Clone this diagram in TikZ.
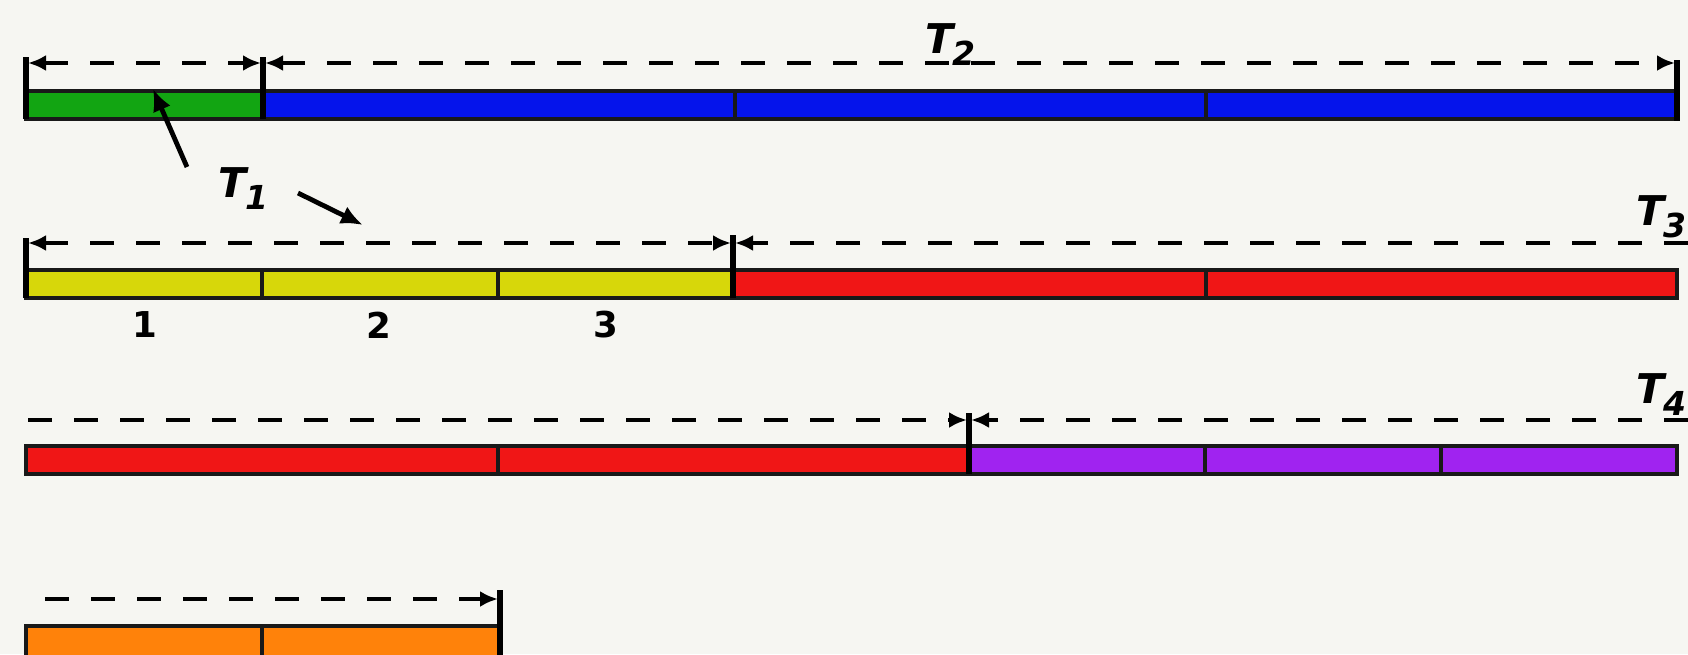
\documentclass[tikz,border=0pt]{standalone}
\usepackage{fontspec}
\newfontfamily\labfont{DejaVu Sans}
\usetikzlibrary{arrows.meta}
\definecolor{bgc}{RGB}{246,246,242}
\definecolor{cgreen}{RGB}{18,165,18}
\definecolor{cblue}{RGB}{5,20,235}
\definecolor{cyellow}{RGB}{215,215,10}
\definecolor{cred}{RGB}{240,22,22}
\definecolor{cpurple}{RGB}{160,35,240}
\definecolor{corange}{RGB}{255,130,10}
\newcommand\Tsub[1]{T\kern-0.5pt\raisebox{-6pt}{\fontsize{16.5}{17}\selectfont #1}}
\begin{document}
\begin{tikzpicture}[x=0.5pt,y=-0.5pt,
  seg/.style={draw=black!90, line width=1.6pt},
  tick/.style={draw=black, line width=3.2pt},
  dline/.style={draw=black, line width=2.4pt, dash pattern=on 12pt off 11pt,
     >={Latex[length=9pt,width=8pt]}},
  pointer/.style={draw=black, line width=2.4pt, -{Latex[length=11pt,width=9.5pt]}},
  tlab/.style={font=\labfont\bfseries\itshape\fontsize{20.5}{21}\selectfont, inner sep=0pt},
  dlab/.style={font=\labfont\bfseries\fontsize{17.8}{18}\selectfont, inner sep=0pt}
]
\useasboundingbox (0,0) rectangle (1688,654);
\fill[bgc] (0,0) rectangle (1688,654);
\clip (0,0) rectangle (1688,654);

% ---------- row 1 ----------
\draw[seg, fill=cgreen] (26,91) rectangle (263,119);
\draw[seg, fill=cblue] (263,91) rectangle (735,119);
\draw[seg, fill=cblue] (735,91) rectangle (1206,119);
\draw[seg, fill=cblue] (1206,91) rectangle (1677,119);
\draw[tick] (26,57) -- (26,119);
\draw[tick] (263,57) -- (263,119);
\draw[tick] (1677,60) -- (1677,121);
\coordinate (a1) at (28,63);
\coordinate (a2) at (261,63);
\coordinate (a3) at (265,63);
\coordinate (a4) at (1675,63);
\draw[dline,<->] (a1) -- (a2);
\draw[dline,<->] (a3) -- (a4);
\node[tlab, anchor=base west] (t2) at (925,53) {\Tsub{2}};

% ---------- T1 annotations ----------
\node[tlab, anchor=base west] (t1) at (218,197) {\Tsub{1}};
\coordinate (p1s) at (187,167);
\coordinate (p1e) at (153,89);
\coordinate (p2s) at (298,193);
\coordinate (p2e) at (363,225);
\draw[pointer] (p1s) -- (p1e);
\draw[pointer] (p2s) -- (p2e);

% ---------- row 2 ----------
\draw[seg, fill=cyellow] (26,270) rectangle (262,298);
\draw[seg, fill=cyellow] (262,270) rectangle (498,298);
\draw[seg, fill=cyellow] (498,270) rectangle (733,298);
\draw[seg, fill=cred] (733,270) rectangle (1206,298);
\draw[seg, fill=cred] (1206,270) rectangle (1677,298);
\draw[tick] (26,238) -- (26,298);
\draw[tick] (733,235) -- (733,298);
\coordinate (b1) at (28,243);
\coordinate (b2) at (731,243);
\coordinate (b3) at (735,243);
\coordinate (b4) at (1688,243);
\draw[dline,<->] (b1) -- (b2);
\draw[dline,->] (b4) -- (b3);
\node[tlab, anchor=base west] (t3) at (1636,225) {\Tsub{3}};
\node[dlab] (d1) at (145,325) {1};
\node[dlab] (d2) at (379,325) {2};
\node[dlab] (d3) at (606,325) {3};

% ---------- row 3 ----------
\draw[seg, fill=cred] (26,446) rectangle (498,474);
\draw[seg, fill=cred] (498,446) rectangle (969,474);
\draw[seg, fill=cpurple] (969,446) rectangle (1205,474);
\draw[seg, fill=cpurple] (1205,446) rectangle (1441,474);
\draw[seg, fill=cpurple] (1441,446) rectangle (1677,474);
\draw[tick] (969,413) -- (969,474);
\coordinate (c1) at (28,420);
\coordinate (c2) at (967,420);
\coordinate (c3) at (971,420);
\coordinate (c4) at (1688,420);
\draw[dline,->] (c1) -- (c2);
\draw[dline,->] (c4) -- (c3);
\node[tlab, anchor=base west] (t4) at (1636,403) {\Tsub{4}};

% ---------- row 4 ----------
\draw[seg, fill=corange] (26,626) rectangle (262,662);
\draw[seg, fill=corange] (262,626) rectangle (500,662);
\draw[tick] (500,590) -- (500,662);
\coordinate (e1) at (45,599);
\coordinate (e2) at (498,599);
\draw[dline,->] (e1) -- (e2);
\end{tikzpicture}
\end{document}
